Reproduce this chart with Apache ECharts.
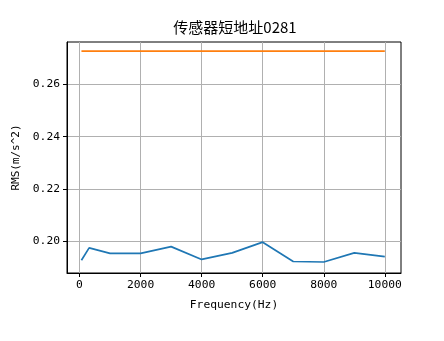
<!DOCTYPE html>
<html><head><meta charset="utf-8">
<script src="https://cdn.jsdelivr.net/npm/echarts@6/dist/echarts.min.js"></script>
<style>html,body{margin:0;padding:0;background:#fff}#c{width:444px;height:341px}</style>
</head><body><div id="c"></div>
<script>
const freqs = [63, 315, 1000, 2000, 3000, 4000, 5000, 6000, 7000, 8000, 9000, 10000];
const rms = [0.1927, 0.1974, 0.1953, 0.1953, 0.1979, 0.1930, 0.1955, 0.1996, 0.1922, 0.1920, 0.1955, 0.1941];
const limitValue = 0.2727;
const limit = freqs.map(() => limitValue);
const xTicks = [0, 2000, 4000, 6000, 8000, 10000];
const yTicks = [0.20, 0.22, 0.24, 0.26];
const title = '传感器短地址0281';
const xName = 'Frequency(Hz)';
const yName = 'RMS(m/s^2)';

const font = '"Noto Sans CJK SC", sans-serif';
const mono = '"DejaVu Sans Mono", monospace';
const chart = echarts.init(document.getElementById('c'), null, {renderer: 'canvas'});
chart.setOption({
  animation: false,
  backgroundColor: '#fff',
  title: {text: title, left: 230, top: 15, textAlign: 'center',
    textStyle: {fontFamily: font, fontSize: 15, fontWeight: 'normal', color: '#000'}},
  grid: {left: 67, top: 42, right: 43, bottom: 68, show: true, borderColor: '#000', borderWidth: 1, containLabel: false},
  xAxis: {
    type: 'value', min: -410, max: 10530,
    name: xName, nameLocation: 'middle', nameGap: 27,
    nameTextStyle: {fontFamily: mono, fontSize: 11.3, color: '#000'},
    axisLine: {show: true, onZero: false, lineStyle: {color: '#000', width: 1}},
    axisTick: {show: true, inside: false, length: 4, customValues: xTicks, lineStyle: {color: '#000'}},
    axisLabel: {customValues: xTicks, fontFamily: mono, fontSize: 11.3, color: '#000', margin: 7,
      formatter: v => String(Math.round(v))},
    splitLine: {show: true, lineStyle: {color: '#b0b0b0', width: 1}}
  },
  yAxis: {
    type: 'value', min: 0.1878, max: 0.2762,
    name: yName, nameLocation: 'middle', nameGap: 45, nameRotate: 90,
    nameTextStyle: {fontFamily: mono, fontSize: 11, color: '#000'},
    axisLine: {show: true, onZero: false, lineStyle: {color: '#000', width: 1}},
    axisTick: {show: true, inside: false, length: 4, customValues: yTicks, lineStyle: {color: '#000'}},
    axisLabel: {customValues: yTicks, fontFamily: mono, fontSize: 11.3, color: '#000', margin: 7,
      formatter: v => v.toFixed(2)},
    splitLine: {show: true, lineStyle: {color: '#b0b0b0', width: 1}}
  },
  series: [
    {type: 'line', data: freqs.map((f, i) => [f, rms[i]]), showSymbol: false, symbol: 'none',
      lineStyle: {color: '#1f77b4', width: 1.7}, itemStyle: {color: '#1f77b4'}},
    {type: 'line', data: freqs.map((f, i) => [f, limit[i]]), showSymbol: false, symbol: 'none',
      lineStyle: {color: '#ff7f0e', width: 1.7}, itemStyle: {color: '#ff7f0e'}}
  ]
});
</script></body></html>
